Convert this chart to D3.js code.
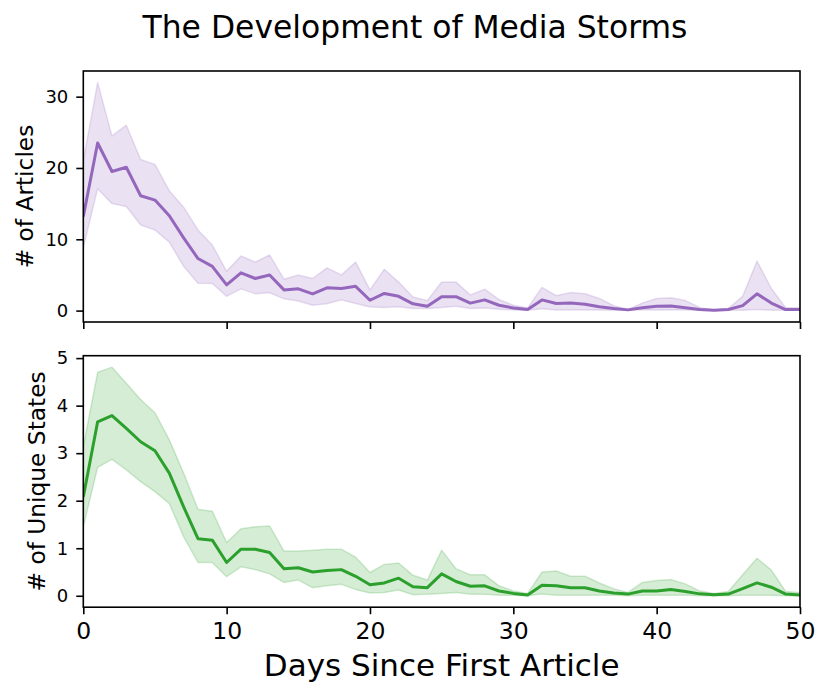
<!DOCTYPE html>
<html>
<head>
<meta charset="utf-8">
<script src="https://cdn.jsdelivr.net/npm/d3@7"></script>
<style>
  html, body { margin: 0; padding: 0; background: #fff; }
  svg { display: block; font-family: "DejaVu Sans", sans-serif; }
</style>
</head>
<body>
<svg id="chart" width="830" height="696"></svg>
<script>
// ---------- data ----------
const days = d3.range(0, 51);

const articlesMean = [13.2, 23.5, 19.5, 20.1, 16.1, 15.5, 13.3, 10.2, 7.3, 6.2,
  3.6, 5.3, 4.5, 5.0, 2.9, 3.05, 2.35, 3.2, 3.1, 3.4,
  1.45, 2.4, 2.0, 0.95, 0.6, 1.95, 1.95, 1.05, 1.5, 0.75,
  0.37, 0.15, 1.5, 1.0, 1.05, 0.9, 0.55, 0.3, 0.1, 0.4,
  0.6, 0.65, 0.4, 0.15, 0.05, 0.15, 0.7, 2.35, 1.05, 0.15, 0.15];

const articlesUpper = [21.0, 32.0, 24.5, 26.0, 21.2, 20.5, 16.8, 14.5, 11.3, 9.2,
  5.5, 7.65, 6.8, 7.8, 4.4, 5.0, 4.5, 6.0, 5.0, 6.8,
  2.9, 5.8, 4.0, 1.9, 1.4, 4.0, 4.0, 2.2, 3.0, 1.55,
  0.75, 0.37, 3.25, 2.1, 2.55, 2.35, 1.7, 0.7, 0.15, 1.05,
  1.7, 1.8, 1.4, 0.45, 0.05, 0.3, 2.0, 6.95, 3.1, 0.4, 0.4];

const articlesLower = [8.8, 17.1, 15.0, 14.6, 12.0, 11.3, 9.6, 6.2, 3.85, 3.8,
  2.0, 3.05, 2.35, 2.5, 1.65, 1.35, 0.75, 0.95, 1.5, 1.0,
  0.5, 0.45, 0.55, 0.3, 0.3, 0.45, 0.6, 0.3, 0.37, 0.2,
  0.1, 0.05, 0.25, 0.1, 0.1, 0.1, 0.08, 0.05, 0.05, 0.1,
  0.1, 0.1, 0.08, 0.05, 0.0, 0.05, 0.05, 0.15, 0.05, 0.05, 0.05];

const statesMean = [2.08, 3.66, 3.79, 3.52, 3.24, 3.05, 2.58, 1.87, 1.2, 1.17,
  0.7, 0.98, 0.98, 0.91, 0.57, 0.59, 0.5, 0.53, 0.55, 0.41,
  0.23, 0.27, 0.37, 0.19, 0.17, 0.46, 0.3, 0.2, 0.21, 0.1,
  0.05, 0.015, 0.22, 0.21, 0.17, 0.17, 0.1, 0.06, 0.035, 0.1,
  0.1, 0.13, 0.09, 0.04, 0.02, 0.035, 0.15, 0.27, 0.18, 0.035, 0.015];

const statesUpper = [3.14, 4.7, 4.81, 4.47, 4.13, 3.85, 3.28, 2.58, 1.82, 1.78,
  1.12, 1.41, 1.45, 1.47, 0.94, 0.94, 0.96, 0.98, 0.98, 0.81,
  0.49, 0.66, 0.69, 0.43, 0.33, 0.96, 0.57, 0.44, 0.44, 0.21,
  0.1, 0.05, 0.5, 0.52, 0.41, 0.41, 0.27, 0.15, 0.07, 0.28,
  0.32, 0.34, 0.25, 0.1, 0.05, 0.09, 0.44, 0.79, 0.54, 0.09, 0.07];

const statesLower = [1.45, 2.7, 2.87, 2.65, 2.4, 2.19, 1.94, 1.24, 0.7, 0.7,
  0.4, 0.61, 0.55, 0.46, 0.28, 0.33, 0.17, 0.21, 0.24, 0.13,
  0.06, 0.07, 0.12, 0.02, 0.03, 0.05, 0.07, 0.03, 0.03, 0.01,
  0.01, 0.0, 0.035, 0.01, 0.01, 0.01, 0.01, 0.01, 0.0, 0.01,
  0.01, 0.01, 0.01, 0.0, 0.0, 0.0, 0.01, 0.01, 0.01, 0.0, 0.0];

const xTicks = [0, 10, 20, 30, 40, 50];
const articlesTicks = [0, 10, 20, 30];
const statesTicks = [0, 1, 2, 3, 4, 5];

const titleText = "The Development of Media Storms";
const xLabelText = "Days Since First Article";
const articlesLabel = "# of Articles";
const statesLabel = "# of Unique States";

// ---------- layout ----------
const svg = d3.select("#chart");
const left = 83.3, right = 800;
const panels = [
  { top: 71, bottom: 322, mean: articlesMean, upper: articlesUpper, lower: articlesLower,
    ticks: articlesTicks, label: articlesLabel, color: "#9467bd", labelX: 32.5, showX: false },
  { top: 355.7, bottom: 607.2, mean: statesMean, upper: statesUpper, lower: statesLower,
    ticks: statesTicks, label: statesLabel, color: "#2ca02c", labelX: 45, showX: true }
];

const x = d3.scaleLinear().domain([0, 50]).range([left, right]);

panels.forEach((p, idx) => {
  const lo = d3.min(p.lower), hi = d3.max(p.upper);
  const pad = (hi - lo) * 0.05;
  const y = d3.scaleLinear().domain([lo - pad, hi + pad]).range([p.bottom, p.top]);

  const clipId = "clip" + idx;
  svg.append("clipPath").attr("id", clipId)
    .append("rect").attr("x", left).attr("y", p.top)
    .attr("width", right - left).attr("height", p.bottom - p.top);

  const g = svg.append("g").attr("clip-path", `url(#${clipId})`);

  const area = d3.area()
    .x(i => x(days[i]))
    .y0(i => y(p.lower[i]))
    .y1(i => y(p.upper[i]));
  g.append("path")
    .attr("d", area(d3.range(days.length)))
    .attr("fill", p.color).attr("fill-opacity", 0.2)
    .attr("stroke", p.color).attr("stroke-opacity", 0.2).attr("stroke-width", 1.5)
    .attr("stroke-linejoin", "round");

  const line = d3.line()
    .x(i => x(days[i]))
    .y(i => y(p.mean[i]));
  g.append("path")
    .attr("d", line(d3.range(days.length)))
    .attr("fill", "none").attr("stroke", p.color)
    .attr("stroke-width", 3).attr("stroke-linejoin", "round");

  // y axis
  const yAxis = d3.axisLeft(y).tickValues(p.ticks).tickSize(7).tickPadding(8).tickFormat(d3.format("d"));
  const ya = svg.append("g").attr("transform", `translate(${left},0)`).call(yAxis);
  ya.select(".domain").remove();
  ya.selectAll(".tick line").attr("stroke", "#000").attr("stroke-width", 1.6);
  ya.selectAll(".tick text").attr("fill", "#000").style("font-size", "18px")
    .style("font-family", "DejaVu Sans");

  // x axis
  const xAxis = d3.axisBottom(x).tickValues(xTicks).tickSize(7).tickPadding(7.7)
    .tickFormat(p.showX ? d3.format("d") : () => "");
  const xa = svg.append("g").attr("transform", `translate(0,${p.bottom})`).call(xAxis);
  xa.select(".domain").remove();
  xa.selectAll(".tick line").attr("stroke", "#000").attr("stroke-width", 1.6);
  xa.selectAll(".tick text").attr("fill", "#000").style("font-size", "23.5px")
    .style("font-family", "DejaVu Sans");

  // frame
  svg.append("rect")
    .attr("x", left).attr("y", p.top)
    .attr("width", right - left).attr("height", p.bottom - p.top)
    .attr("fill", "none").attr("stroke", "#000").attr("stroke-width", 1.6);

  // y label
  svg.append("text")
    .attr("transform", `translate(${p.labelX},${(p.top + p.bottom) / 2}) rotate(-90)`)
    .attr("text-anchor", "middle")
    .style("font-size", "23.3px").style("font-family", "DejaVu Sans")
    .text(p.label);
});

// x label
svg.append("text")
  .attr("x", (left + right) / 2).attr("y", 676)
  .attr("text-anchor", "middle")
  .style("font-size", "31px").style("font-family", "DejaVu Sans")
  .text(xLabelText);

// title
svg.append("text")
  .attr("x", 415).attr("y", 38)
  .attr("text-anchor", "middle")
  .style("font-size", "31.4px").style("font-family", "DejaVu Sans")
  .text(titleText);
</script>
</body>
</html>
